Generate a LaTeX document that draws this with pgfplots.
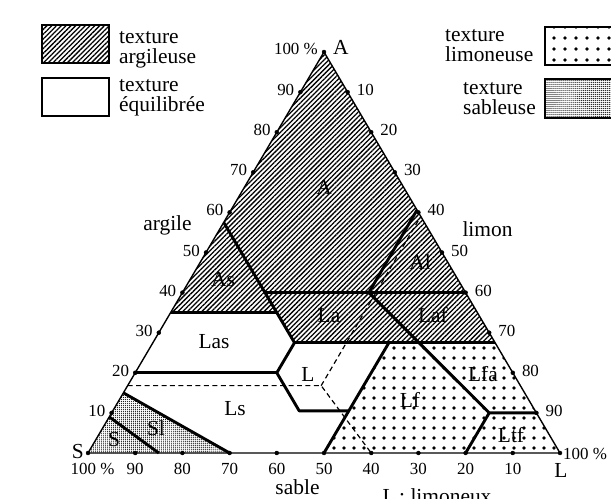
\documentclass[border=0pt]{standalone}
\usepackage{fontspec}
\setmainfont{Liberation Serif}
\usepackage{pgfplots}
\pgfplotsset{compat=1.18}
\usetikzlibrary{patterns.meta}

% ternary (a = argile, l = limon, sable = rest) -> picture coordinates
\pgfplotsset{
  table/tern/.style={row sep=\\,
    x expr={88+4.72*(\thisrow{l}+0.5*\thisrow{a})},
    y expr={46+4.01*\thisrow{a}}},
}
\newcommand\wf{\fontsize{21.5}{20}\selectfont}
\newcommand\nf{\fontsize{17}{17}\selectfont}

\begin{document}
\begin{tikzpicture}
\useasboundingbox (0,0) rectangle (611bp,499bp);
\begin{axis}[
    width=611bp, height=499bp, scale only axis,
    xmin=0, xmax=611, ymin=0, ymax=499,
    hide axis, clip=false,
]
% texture areas
\addplot[draw=none, pattern={Lines[angle=45,distance=3.4pt,line width=1.3pt]}]
  table[tern]{a l\\ 100 0\\ 35 0\\ 35 22.5\\ 27.5 30\\ 27.5 72.5\\};
\addplot[draw=none, pattern={Dots[distance=10.5pt,radius=1.9pt]}]
  table[tern]{a l\\ 27.5 50\\ 0 50\\ 0 100\\ 27.5 72.5\\};
\addplot[draw=none, pattern={Dots[distance=2pt,radius=0.6pt]}]
  table[tern]{a l\\ 15 0\\ 0 30\\ 0 0\\};

% class boundaries
\addplot[line width=2.9pt, line join=round] table[tern]{a l\\ 57.5 0\\ 27.5 30\\ 20 30\\ 10.5 39.5\\ 10.5 50\\};
\addplot[line width=2.9pt] table[tern]{a l\\ 27.5 50\\ 0 50\\};
\addplot[line width=2.9pt] table[tern]{a l\\ 35 0\\ 35 22.5\\};
\addplot[line width=2.9pt] table[tern]{a l\\ 40 17.5\\ 40 60\\};
\addplot[line width=2.9pt] table[tern]{a l\\ 27.5 30\\ 27.5 72.5\\};
\addplot[line width=2.9pt] table[tern]{a l\\ 20 0\\ 20 30\\};
\addplot[line width=2.9pt, line join=round] table[tern]{a l\\ 60.6 39.4\\ 40 39.5\\ 10 80\\ 10 90\\};
\addplot[line width=2.9pt] table[tern]{a l\\ 10 80\\ 0 80\\};
\addplot[line width=2.9pt] table[tern]{a l\\ 15 0\\ 0 30\\};
\addplot[line width=2.9pt] table[tern]{a l\\ 9 0\\ 0 15\\};

% dashed lines
\addplot[line width=1.2pt, dash pattern=on 5pt off 3.5pt] table[tern]{a l\\ 16.8 0\\ 16.8 41\\ 0 60\\};
\addplot[line width=1.2pt, dash pattern=on 5pt off 3.5pt] table[tern]{a l\\ 16.8 41\\ 59 41\\};

% triangle
\addplot[line width=1.4pt] table[tern]{a l\\ 100 0\\ 0 0\\ 0 100\\} -- cycle;

% tick dots
\addplot[only marks, mark=*, mark size=2pt] table[tern]{a l\\
0 0\\ 10 0\\ 20 0\\ 30 0\\ 40 0\\ 50 0\\ 60 0\\ 70 0\\ 80 0\\ 90 0\\ 100 0\\
90 10\\ 80 20\\ 70 30\\ 60 40\\ 50 50\\ 40 60\\ 30 70\\ 20 80\\ 10 90\\ 0 100\\
0 10\\ 0 20\\ 0 30\\ 0 40\\ 0 50\\ 0 60\\ 0 70\\ 0 80\\ 0 90\\};

% legend swatches
\addplot[line width=1.8pt, pattern={Lines[angle=45,distance=3.4pt,line width=1.3pt]}]
  coordinates {(41.7,436.3)(109.3,436.3)(109.3,474)(41.7,474)} -- cycle;
\addplot[line width=1.8pt]
  coordinates {(41.7,383)(109.3,383)(109.3,421.3)(41.7,421.3)} -- cycle;
\addplot[line width=1.8pt, pattern={Dots[distance=10.5pt,radius=1.9pt]}]
  coordinates {(545,434)(614,434)(614,471.7)(545,471.7)} -- cycle;
\addplot[line width=1.8pt, pattern={Dots[distance=2pt,radius=0.6pt]}]
  coordinates {(545,381)(614,381)(614,420)(545,420)} -- cycle;

% legend text
\begin{scope}[every node/.style={font=\wf, inner sep=0pt, anchor=base west}]
\node at (axis cs:119,455.7) {texture};
\node at (axis cs:119,435.7) {argileuse};
\node at (axis cs:119,407.3) {texture};
\node at (axis cs:119,387.3) {équilibrée};
\node at (axis cs:445,457.3) {texture};
\node at (axis cs:445,437.3) {limoneuse};
\node at (axis cs:463,404) {texture};
\node at (axis cs:463,384) {sableuse};
\end{scope}

% class names
\begin{scope}[every node/.style={font=\wf, inner sep=0pt}]
\node at (axis cs:324,312) {A};
\node at (axis cs:223,219) {As};
\node at (axis cs:420,237) {Al};
\node at (axis cs:329,183) {La};
\node at (axis cs:433,184) {Laf};
\node at (axis cs:214,157) {Las};
\node at (axis cs:308,125) {L};
\node at (axis cs:235,90) {Ls};
\node at (axis cs:483,125) {Lfa};
\node at (axis cs:410,99) {Lf};
\node at (axis cs:511,64) {Ltf};
\node at (axis cs:156,71) {Sl};
\node at (axis cs:114,59) {S};
\node at (axis cs:167.5,274) {argile};
\node at (axis cs:487.5,270) {limon};
\node at (axis cs:297.5,12) {sable};
\node[anchor=north] at (axis cs:437,11) {L\,: limoneux};
\node[anchor=east] at (axis cs:84,47.3) {S};
\node[anchor=west] at (axis cs:333,452) {A};
\end{scope}

% scale numbers
\begin{scope}[every node/.style={font=\nf, inner sep=0pt}]
\node[anchor=east] at (axis cs:318,450) {100~\%};
\node[anchor=east] at (axis cs:294.4,408.9) {90};
\node[anchor=east] at (axis cs:270.8,368.8) {80};
\node[anchor=east] at (axis cs:247.2,328.7) {70};
\node[anchor=east] at (axis cs:223.6,288.6) {60};
\node[anchor=east] at (axis cs:200,248.5) {50};
\node[anchor=east] at (axis cs:176.4,208.4) {40};
\node[anchor=east] at (axis cs:152.8,168.3) {30};
\node[anchor=east] at (axis cs:129.2,128.2) {20};
\node[anchor=east] at (axis cs:105.6,88.1) {10};
\node[anchor=west] at (axis cs:356.6,408.9) {10};
\node[anchor=west] at (axis cs:380.2,368.8) {20};
\node[anchor=west] at (axis cs:403.8,328.7) {30};
\node[anchor=west] at (axis cs:427.4,288.6) {40};
\node[anchor=west] at (axis cs:451,248.5) {50};
\node[anchor=west] at (axis cs:474.6,208.4) {60};
\node[anchor=west] at (axis cs:498.2,168.3) {70};
\node[anchor=west] at (axis cs:521.8,128.2) {80};
\node[anchor=west] at (axis cs:545.4,88.1) {90};
\node[anchor=west] at (axis cs:563,45) {100~\%};
\node[anchor=north] at (axis cs:92.5,36) {100~\%};
\node[anchor=north] at (axis cs:135.2,36) {90};
\node[anchor=north] at (axis cs:182.4,36) {80};
\node[anchor=north] at (axis cs:229.6,36) {70};
\node[anchor=north] at (axis cs:276.8,36) {60};
\node[anchor=north] at (axis cs:324,36) {50};
\node[anchor=north] at (axis cs:371.2,36) {40};
\node[anchor=north] at (axis cs:418.4,36) {30};
\node[anchor=north] at (axis cs:465.6,36) {20};
\node[anchor=north] at (axis cs:512.8,36) {10};
\node[anchor=north, font=\wf] at (axis cs:561,36) {L};
\end{scope}
\end{axis}
\end{tikzpicture}
\end{document}
